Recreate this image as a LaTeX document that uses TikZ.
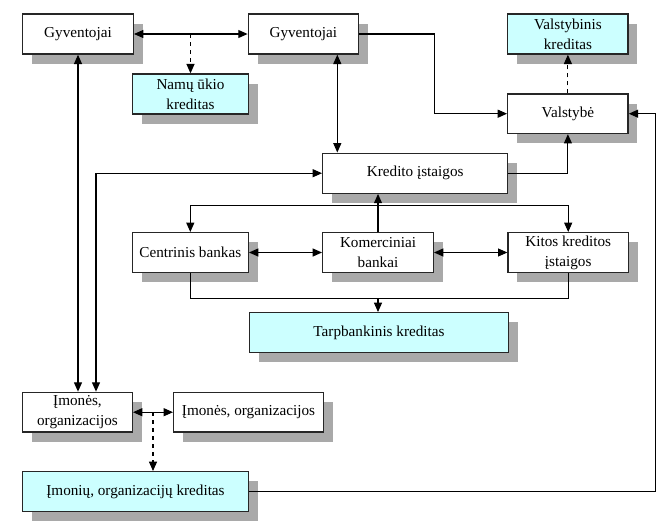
\documentclass[tikz,border=0pt]{standalone}
\usepackage{fontspec}
\setmainfont{Liberation Serif}
\usetikzlibrary{arrows.meta,shadows,calc}
\definecolor{lcyan}{HTML}{CCFFFF}
\definecolor{shadowgray}{HTML}{A9A9A9}
\tikzset{
  box/.style={draw=black!85, line width=1.05pt, fill=white, inner sep=0pt, align=center,
    font=\fontsize{11.4}{15}\selectfont,
    drop shadow={shadow xshift=7pt, shadow yshift=-7.2pt, fill=shadowgray, opacity=1}},
  cbox/.style={box, fill=lcyan},
  conn/.style={line width=0.8pt, draw=black},
  >={Triangle[length=7pt,width=6pt]}
}
\begin{document}
\begin{tikzpicture}[x=0.75pt,y=-0.75pt]
\useasboundingbox (0,0) rectangle (666,525);
% nodes (positions in px)
\node[box, minimum width=110.6*0.75pt, minimum height=40*0.75pt] (g1) at (78,34) {Gyventojai};
\node[box, minimum width=110*0.75pt, minimum height=40*0.75pt] (g2) at (303.3,34) {Gyventojai};
\node[cbox, minimum width=115.6*0.75pt, minimum height=40*0.75pt] (namu) at (190.5,94) {Namų ūkio\\kreditas};
\node[cbox, minimum width=120.3*0.75pt, minimum height=40*0.75pt] (vk) at (567.9,34) {Valstybinis\\kreditas};
\node[box, minimum width=120.3*0.75pt, minimum height=39.5*0.75pt] (val) at (567.9,113.7) {Valstybė};
\node[box, minimum width=185*0.75pt, minimum height=40*0.75pt] (kred) at (415.2,173.2) {Kredito įstaigos};
\node[box, minimum width=116*0.75pt, minimum height=39.6*0.75pt] (cb) at (190.3,252.5) {Centrinis bankas};
\node[box, minimum width=110.6*0.75pt, minimum height=39.6*0.75pt] (kb) at (378,252.5) {Komerciniai\\bankai};
\node[box, minimum width=120.3*0.75pt, minimum height=39.6*0.75pt] (kit) at (568.2,252.5) {Kitos kreditos\\įstaigos};
\node[cbox, minimum width=258.7*0.75pt, minimum height=39.6*0.75pt] (tarp) at (379,332.5) {Tarpbankinis kreditas};
\node[box, minimum width=109.6*0.75pt, minimum height=39.7*0.75pt] (im1) at (77.5,412.2) {Įmonės,\\organizacijos};
\node[box, minimum width=149.6*0.75pt, minimum height=39.7*0.75pt] (im2) at (248.5,412.2) {Įmonės, organizacijos};
\node[cbox, minimum width=225.6*0.75pt, minimum height=39.6*0.75pt] (imk) at (135.5,491.5) {Įmonių, organizacijų kreditas};
% helper coordinates
\coordinate (g2s) at ($(g2.south)+(34,0)$);
\coordinate (im1n) at ($(im1.north)+(18.5,0)$);
\coordinate (hub) at ($(kb.north)+(0,-26.5)$);
\coordinate (bot) at ($(tarp.north)+(-1,-13.5)$);
\coordinate (imd) at ($(im1.east)!0.5!(im2.west)$);
% connectors
\draw[conn,<->] (g1.east) -- (g2.west);
\draw[conn,dashed,->] (g1.east -| namu.north) -- (namu.north);
\draw[conn,<->] (g1.south) -- (g1.south |- im1.north);
\draw[conn,<->] (im1n) |- (kred.west);
\draw[conn,<->] (g2s) -- (g2s |- kred.north);
\draw[conn,->] (g2.east) -- ++(75.7,0) |- (val.west);
\draw[conn,dashed,->] (val.north) -- (vk.south);
\draw[conn,->] (kred.east) -| (val.south);
\draw[conn,->] (imk.east) -- ++(406.7,0) |- (val.east);
\draw[conn,<->] (cb.east) -- (kb.west);
\draw[conn,<->] (kb.east) -- (kit.west);
\draw[conn,->] (kb.north) -- (kb.north |- kred.south);
\draw[conn,->] (hub) -| (cb.north);
\draw[conn,->] (hub) -| (kit.north);
\draw[conn] (cb.south) |- (bot);
\draw[conn] (kit.south) |- (bot);
\draw[conn,->] (bot) -- (bot |- tarp.north);
\draw[conn,<->] (im1.east) -- (im2.west);
\draw[conn,dashed,->] (imd) -- (imd |- imk.north);
\end{tikzpicture}
\end{document}
